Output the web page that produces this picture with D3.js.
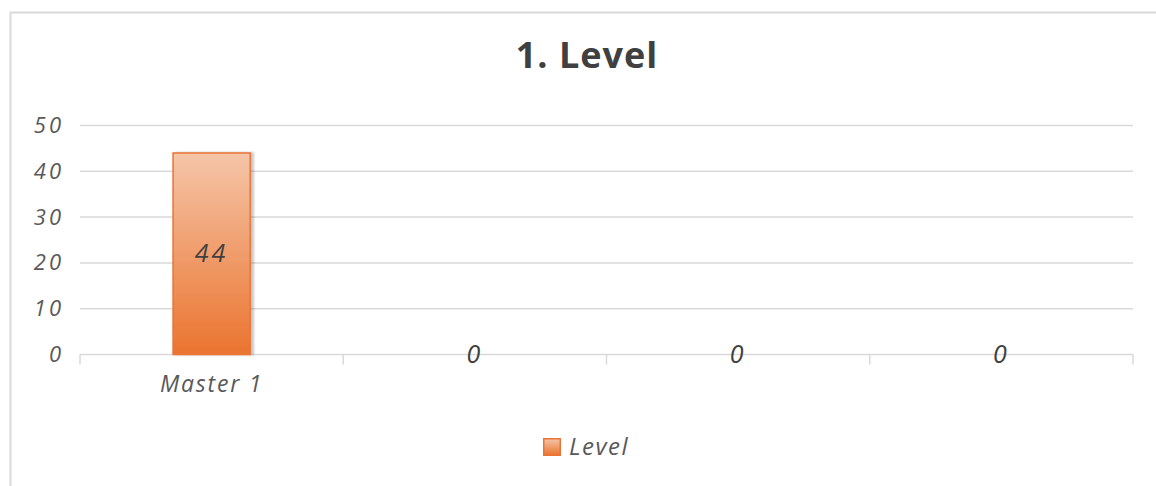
<!DOCTYPE html>
<html>
<head>
<meta charset="utf-8">
<script src="https://cdn.jsdelivr.net/npm/d3@7"></script>
<style>
  html, body { margin: 0; padding: 0; background: #fff; }
  svg { display: block; }
  text { font-family: "Open Sans", "DejaVu Sans", sans-serif; }
</style>
</head>
<body>
<svg id="chart" width="1156" height="486"></svg>
<script>
// Chart data
const categories = ["Master 1", "", "", ""];
const values = [44, 0, 0, 0];
const yTicks = [0, 10, 20, 30, 40, 50];
const seriesName = "Level";
const chartTitle = "1. Level";

const svg = d3.select("#chart");
const W = 1156, H = 486;
const plot = { left: 80, right: 1133, top: 125.5, bottom: 354.5 };

// Outer frame of the chart area
svg.append("rect")
  .attr("x", 10.5).attr("y", 12.5)
  .attr("width", W + 20).attr("height", H + 20)
  .attr("fill", "#fff")
  .attr("stroke", "#d9d9d9").attr("stroke-width", 2);

// Gradient for the bar fill
const defs = svg.append("defs");
const grad = defs.append("linearGradient")
  .attr("id", "barGrad").attr("x1", 0).attr("y1", 0).attr("x2", 0).attr("y2", 1);
grad.append("stop").attr("offset", "0%").attr("stop-color", "#f5c5a8");
grad.append("stop").attr("offset", "100%").attr("stop-color", "#eb742f");
const shadow = defs.append("filter").attr("id", "barShadow")
  .attr("x", "-20%").attr("y", "-20%").attr("width", "140%").attr("height", "140%");
shadow.append("feGaussianBlur").attr("in", "SourceAlpha").attr("stdDeviation", 1.2).attr("result", "b");
shadow.append("feOffset").attr("in", "b").attr("dx", 3).attr("dy", 0).attr("result", "o");
shadow.append("feComponentTransfer").attr("in", "o").attr("result", "s")
  .append("feFuncA").attr("type", "linear").attr("slope", 0.22);
const merge = shadow.append("feMerge");
merge.append("feMergeNode").attr("in", "s");
merge.append("feMergeNode").attr("in", "SourceGraphic");

// Scales
const x = d3.scaleBand()
  .domain(d3.range(categories.length))
  .range([plot.left, plot.right])
  .padding(0);
const y = d3.scaleLinear()
  .domain([0, 50])
  .range([plot.bottom, plot.top]);
const barW = x.bandwidth() * 0.293;

// Title
svg.append("text")
  .attr("x", 587).attr("y", 68)
  .attr("text-anchor", "middle")
  .attr("font-size", 36).attr("font-weight", 700)
  .attr("letter-spacing", 1)
  .attr("fill", "#404040")
  .text(chartTitle);

// Horizontal gridlines
svg.append("g")
  .selectAll("line")
  .data(yTicks.filter(d => d > 0))
  .join("line")
  .attr("x1", plot.left).attr("x2", plot.right)
  .attr("y1", d => y(d)).attr("y2", d => y(d))
  .attr("stroke", "#d9d9d9").attr("stroke-width", 1.5);

// Y axis labels
const yAxis = d3.axisLeft(y).tickValues(yTicks).tickSize(0).tickPadding(0);
svg.append("g")
  .attr("transform", `translate(${plot.left - 16},0)`)
  .call(yAxis)
  .call(g => g.select(".domain").remove())
  .selectAll("text")
  .attr("font-size", 22).attr("font-style", "italic")
  .attr("letter-spacing", 3)
  .attr("fill", "#595959");

// Category axis with tick marks at band boundaries
const xAxis = d3.axisBottom(x)
  .tickFormat(i => categories[i])
  .tickSize(0).tickPadding(21);
const xg = svg.append("g")
  .attr("transform", `translate(0,${plot.bottom})`)
  .call(xAxis);
xg.select(".domain").attr("stroke", "#d9d9d9").attr("stroke-width", 1.5)
  .attr("d", `M${plot.left},0H${plot.right}`);
xg.selectAll("text")
  .attr("font-size", 23).attr("font-style", "italic")
  .attr("letter-spacing", 1.8)
  .attr("fill", "#595959");
const bounds = x.domain().map(i => x(i)).concat([x.range()[1]]);
xg.selectAll(".bound")
  .data(bounds)
  .join("line")
  .attr("class", "bound")
  .attr("x1", d => d).attr("x2", d => d)
  .attr("y1", 0).attr("y2", 10)
  .attr("stroke", "#d9d9d9").attr("stroke-width", 1.5);

// Bars
svg.append("g")
  .selectAll("rect")
  .data(values.map((v, i) => ({ v, i })).filter(d => d.v > 0))
  .join("rect")
  .attr("x", d => x(d.i) + x.bandwidth() / 2 - barW / 2)
  .attr("y", d => y(d.v))
  .attr("width", barW)
  .attr("height", d => y(0) - y(d.v))
  .attr("fill", "url(#barGrad)")
  .attr("stroke", "#ea7436").attr("stroke-width", 1.5)
  .attr("filter", "url(#barShadow)");

// Value labels
svg.append("g")
  .selectAll("text")
  .data(values.map((v, i) => ({ v, i })))
  .join("text")
  .attr("x", d => x(d.i) + x.bandwidth() / 2)
  .attr("y", d => (y(d.v) + y(0)) / 2)
  .attr("dy", "0.35em")
  .attr("text-anchor", "middle")
  .attr("font-size", 25).attr("font-style", "italic")
  .attr("letter-spacing", 3)
  .attr("fill", "#404040")
  .text(d => d.v);

// Legend
const lg = svg.append("g").attr("transform", "translate(543,438)");
lg.append("rect")
  .attr("x", 0.75).attr("y", 0.75).attr("width", 16.5).attr("height", 16.5)
  .attr("fill", "url(#barGrad)")
  .attr("stroke", "#ea7436").attr("stroke-width", 1.5);
lg.append("text")
  .attr("x", 26).attr("y", 9)
  .attr("dy", "0.35em")
  .attr("font-size", 24).attr("font-style", "italic")
  .attr("letter-spacing", 1.5)
  .attr("fill", "#595959")
  .text(seriesName);
</script>
</body>
</html>
